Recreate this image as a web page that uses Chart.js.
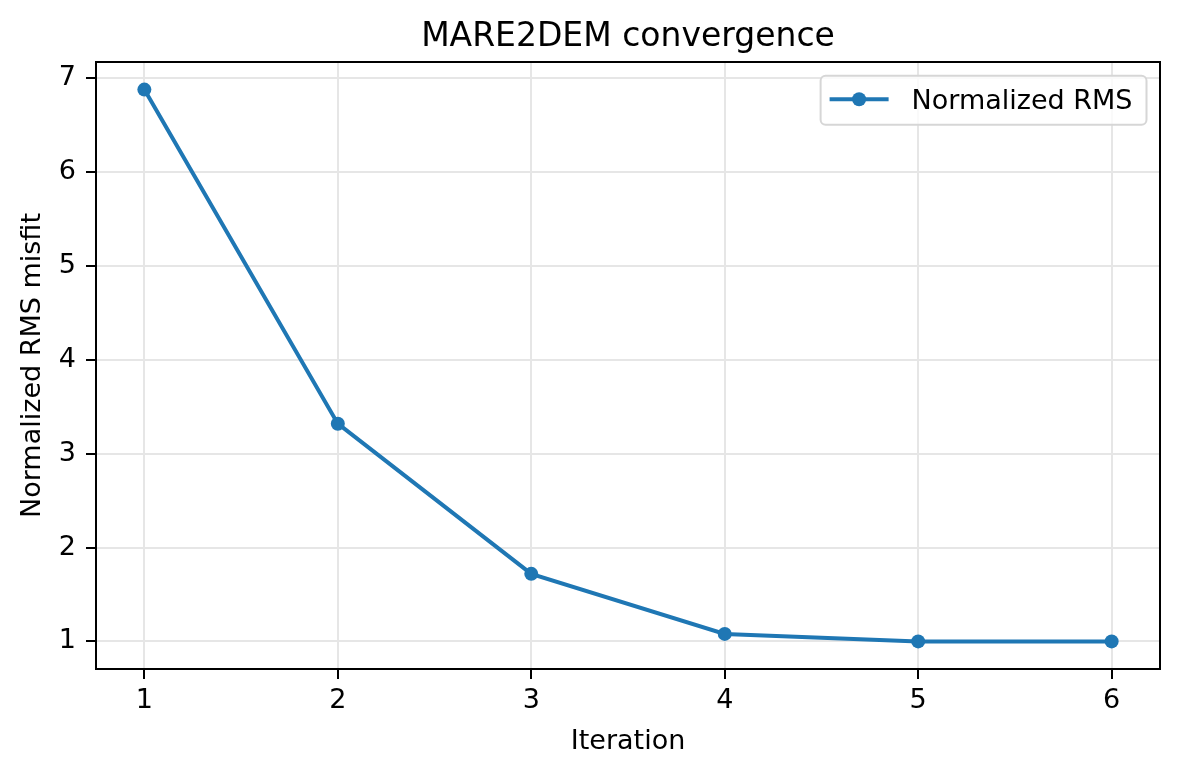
<!DOCTYPE html>
<html>
<head>
<meta charset="utf-8">
<title>MARE2DEM convergence</title>
<script src="https://cdn.jsdelivr.net/npm/chart.js@4.4.0/dist/chart.umd.min.js"></script>
<style>
	html, body { margin: 0; padding: 0; background: #fff; }
	#wrap { width: 1180px; height: 777px; }
</style>
</head>
<body>
<div id="wrap"><canvas id="line-chartcanvas"></canvas></div>
<script>
// data
var iterations = [1, 2, 3, 4, 5, 6];
var rmsValues = [6.88, 3.32, 1.72, 1.08, 1.00, 1.00];
var xTicks = [1, 2, 3, 4, 5, 6];
var yTicks = [1, 2, 3, 4, 5, 6, 7];
var seriesLabel = "Normalized RMS";

var FONT = "'DejaVu Sans', 'Liberation Sans', sans-serif";
var blue = "#1f77b4";

// matplotlib style 5% margins
var yMin = Math.min.apply(null, rmsValues), yMax = Math.max.apply(null, rmsValues);
var yPad = (yMax - yMin) * 0.05;
var xPad = (iterations[iterations.length - 1] - iterations[0]) * 0.05;

var points = [];
for (var i = 0; i < iterations.length; i++) {
	points.push({ x: iterations[i], y: rmsValues[i] });
}

// four black spines round the plot area
var spines = {
	id: "spines",
	afterDatasetsDraw: function(chart) {
		var ctx = chart.ctx, a = chart.chartArea;
		ctx.save();
		ctx.strokeStyle = "#000";
		ctx.lineWidth = 2;
		ctx.strokeRect(a.left, a.top, a.right - a.left, a.bottom - a.top);
		ctx.restore();
	}
};

// legend inside the axes, upper right
var legendBox = {
	id: "legendBox",
	afterDraw: function(chart) {
		var ctx = chart.ctx, a = chart.chartArea;
		var ds = chart.data.datasets[0];
		ctx.save();
		ctx.font = "27px " + FONT;
		var textW = ctx.measureText(ds.label).width;
		var w = 9 + 59 + 23 + textW + 14;
		var h = 49;
		var x1 = a.right - 13.5;
		var x0 = x1 - w;
		var y0 = a.top + 13.7;

		ctx.beginPath();
		ctx.roundRect(x0, y0, w, h, 5);
		ctx.fillStyle = "rgba(255,255,255,0.8)";
		ctx.fill();
		ctx.strokeStyle = "#d6d6d6";
		ctx.lineWidth = 2;
		ctx.stroke();

		var ly = y0 + 23.5;
		ctx.beginPath();
		ctx.moveTo(x0 + 9, ly);
		ctx.lineTo(x0 + 68, ly);
		ctx.strokeStyle = ds.borderColor;
		ctx.lineWidth = 4;
		ctx.stroke();

		ctx.beginPath();
		ctx.arc(x0 + 38.5, ly, 7, 0, Math.PI * 2);
		ctx.fillStyle = ds.backgroundColor;
		ctx.fill();

		ctx.fillStyle = "#000";
		ctx.textBaseline = "alphabetic";
		ctx.textAlign = "left";
		ctx.fillText(ds.label, x0 + 91, y0 + 33.3);
		ctx.restore();
	}
};

var ctx = document.getElementById("line-chartcanvas");

var data1 = {
	datasets: [
		{
			label: seriesLabel,
			data: points,
			backgroundColor: blue,
			borderColor: blue,
			borderWidth: 4,
			fill: false,
			tension: 0,
			pointRadius: 7,
			pointBorderWidth: 0,
			pointBackgroundColor: blue
		}
	]
};

var options = {
	responsive: true,
	maintainAspectRatio: false,
	animation: false,
	devicePixelRatio: 1,
	layout: { padding: { left: 0, right: 20, top: 0, bottom: 0 } },
	plugins: {
		legend: { display: false },
		tooltip: { enabled: false },
		title: {
			display: true,
			fullSize: false,
			text: "MARE2DEM convergence",
			color: "#000",
			font: { family: FONT, size: 33, weight: "normal", lineHeight: 1.2 },
			padding: { top: 18, bottom: 4.4 }
		}
	},
	scales: {
		x: {
			type: "linear",
			min: iterations[0] - xPad,
			max: iterations[iterations.length - 1] + xPad,
			afterBuildTicks: function(scale) {
				scale.ticks = xTicks.map(function(v) { return { value: v }; });
			},
			afterFit: function(scale) { scale.height = 108; },
			border: { display: false },
			grid: {
				color: "#e6e6e6",
				lineWidth: 2,
				drawTicks: true,
				tickLength: 10,
				tickColor: "#000",
				tickWidth: 2
			},
			ticks: {
				color: "#000",
				padding: 6,
				font: { family: FONT, size: 27 },
				callback: function(v) { return String(v); }
			},
			title: {
				display: true,
				text: "Iteration",
				color: "#000",
				font: { family: FONT, size: 27 },
				padding: { top: 0, bottom: 19 }
			}
		},
		y: {
			type: "linear",
			min: yMin - yPad,
			max: yMax + yPad,
			afterBuildTicks: function(scale) {
				scale.ticks = yTicks.map(function(v) { return { value: v }; });
			},
			afterFit: function(scale) { scale.width = 96; },
			border: { display: false },
			grid: {
				color: "#e6e6e6",
				lineWidth: 2,
				drawTicks: true,
				tickLength: 10,
				tickColor: "#000",
				tickWidth: 2
			},
			ticks: {
				color: "#000",
				padding: 10,
				font: { family: FONT, size: 27 },
				callback: function(v) { return String(v); }
			},
			title: {
				display: true,
				text: "Normalized RMS misfit",
				color: "#000",
				font: { family: FONT, size: 27 },
				padding: { top: 17, bottom: 0 }
			}
		}
	}
};

var chart = new Chart(ctx, {
	type: "line",
	data: data1,
	options: options,
	plugins: [spines, legendBox]
});
</script>
</body>
</html>
